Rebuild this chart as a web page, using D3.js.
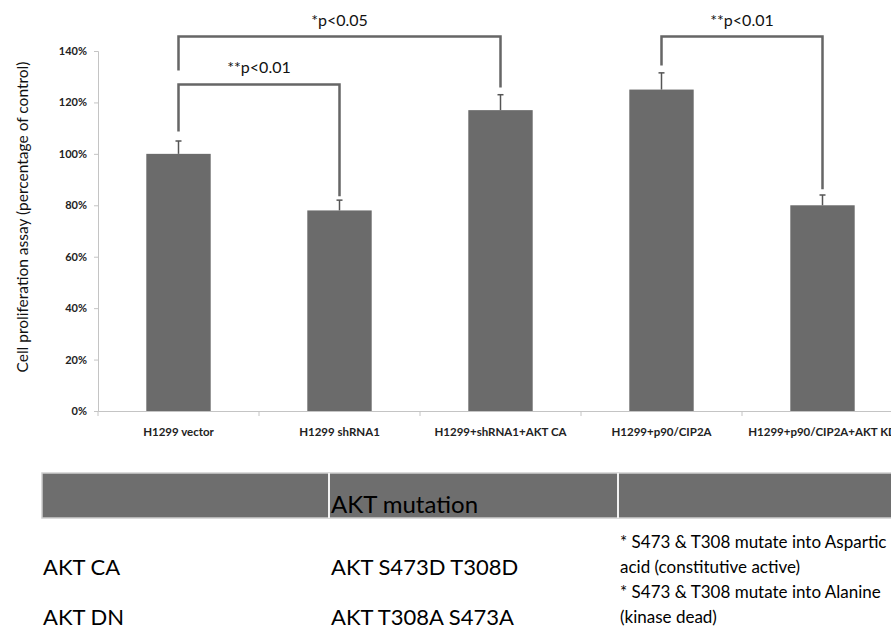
<!DOCTYPE html>
<html>
<head>
<meta charset="utf-8">
<script src="https://cdn.jsdelivr.net/npm/d3@7"></script>
<style>
  body { margin: 0; background: #fff; }
  svg { display: block; }
</style>
</head>
<body>
<svg id="chart" width="891" height="630"></svg>
<script>
// data
const categories = ['H1299 vector', 'H1299 shRNA1', 'H1299+shRNA1+AKT CA', 'H1299+p90/CIP2A', 'H1299+p90/CIP2A+AKT KD'];
const values = [100, 78, 117, 125, 80];
const errors = [5, 4, 6, 6.5, 4];
const yTicks = [0, 20, 40, 60, 80, 100, 120, 140];

// significance brackets (values in % units)
const brackets = [
  { from: 0, to: 2, top: 145.6, leftEnd: 132.4, rightEnd: 125.8, label: '*p<0.05' },
  { from: 0, to: 1, top: 127, leftEnd: 108.7, rightEnd: 83.5, label: '**p<0.01' },
  { from: 3, to: 4, top: 145.6, leftEnd: 134.4, rightEnd: 86.2, label: '**p<0.01' }
];

const tableHeader = ['', 'AKT mutation', ''];
const tableRows = [
  ['AKT CA', 'AKT S473D T308D', ['* S473 & T308 mutate into Aspartic', 'acid (constitutive active)']],
  ['AKT DN', 'AKT T308A S473A', ['*  S473 & T308 mutate into Alanine', '(kinase dead)']]
];

const svg = d3.select('#chart');
const font = 'Lato, "Open Sans", sans-serif';

const x = d3.scaleBand()
  .domain(categories)
  .range([98, 903])
  .padding(0);

const y = d3.scaleLinear()
  .domain([0, 140])
  .range([411, 51]);

const barW = x.bandwidth() * 0.4;
const cx = i => x(categories[i]) + x.bandwidth() / 2;

// y axis
const yAxis = d3.axisLeft(y)
  .tickValues(yTicks)
  .tickSize(4)
  .tickFormat(d => d + '%');

const gy = svg.append('g')
  .attr('transform', 'translate(98,0)')
  .call(yAxis);
gy.select('.domain').attr('stroke', '#c4c4c4');
gy.selectAll('.tick line').attr('stroke', '#c4c4c4');
gy.selectAll('.tick text')
  .attr('x', -11)
  .attr('fill', '#222')
  .style('font', 'bold 11px ' + font);

// x axis
const xAxis = d3.axisBottom(x).tickSize(0).tickFormat(d => d);
const gx = svg.append('g')
  .attr('transform', 'translate(0,411)')
  .call(xAxis);
gx.select('.domain').attr('stroke', '#c4c4c4');
gx.selectAll('.tick text')
  .attr('y', 17)
  .attr('fill', '#222')
  .style('font', 'bold 11.5px ' + font);

// separator ticks between categories
gx.selectAll('.sep')
  .data(categories)
  .enter()
  .append('line')
  .attr('x1', d => x(d))
  .attr('x2', d => x(d))
  .attr('y1', 0)
  .attr('y2', 5)
  .attr('stroke', '#c4c4c4');

// bars
svg.selectAll('.bar')
  .data(values)
  .enter()
  .append('rect')
  .attr('class', 'bar')
  .attr('x', (d, i) => cx(i) - barW / 2)
  .attr('y', d => y(d))
  .attr('width', barW)
  .attr('height', d => y(0) - y(d))
  .attr('fill', '#6b6b6b');

// error bars
const eb = svg.append('g').attr('stroke', '#555').attr('stroke-width', 1.5);
values.forEach((v, i) => {
  eb.append('line')
    .attr('x1', cx(i)).attr('x2', cx(i))
    .attr('y1', y(v)).attr('y2', y(v + errors[i]));
  eb.append('line')
    .attr('x1', cx(i) - 3).attr('x2', cx(i) + 3)
    .attr('y1', y(v + errors[i])).attr('y2', y(v + errors[i]));
});

// brackets
const bg = svg.append('g');
brackets.forEach(b => {
  const x1 = cx(b.from), x2 = cx(b.to);
  bg.append('path')
    .attr('d', `M${x1},${y(b.leftEnd)}V${y(b.top)}H${x2}V${y(b.rightEnd)}`)
    .attr('fill', 'none')
    .attr('stroke', '#666')
    .attr('stroke-width', 2.5);
  bg.append('text')
    .attr('x', (x1 + x2) / 2)
    .attr('y', y(b.top) - 11)
    .attr('text-anchor', 'middle')
    .attr('fill', '#111')
    .style('font', '16px ' + font)
    .text(b.label);
});

// y title
svg.append('text')
  .attr('transform', 'translate(28,217) rotate(-90)')
  .attr('text-anchor', 'middle')
  .attr('fill', '#111')
  .style('font', '15.5px ' + font)
  .text('Cell proliferation assay (percentage of control)');

// table
const colX = [42, 329, 618];
const table = svg.append('g');
table.append('rect')
  .attr('x', 42).attr('y', 473)
  .attr('width', 860).attr('height', 45)
  .attr('fill', '#6e6e6e')
  .attr('stroke', '#cfcfcf')
  .attr('stroke-width', 1.5);
colX.slice(1).forEach(cxp => {
  table.append('line')
    .attr('x1', cxp).attr('x2', cxp)
    .attr('y1', 473).attr('y2', 518)
    .attr('stroke', '#f2f2f2')
    .attr('stroke-width', 2);
});
tableHeader.forEach((h, i) => {
  table.append('text')
    .attr('x', colX[i] + 2).attr('y', 513)
    .attr('fill', '#000')
    .style('font', '24px ' + font)
    .text(h);
});
const rowY = [575, 625];
tableRows.forEach((r, j) => {
  table.append('text')
    .attr('x', colX[0] + 1).attr('y', rowY[j])
    .attr('fill', '#000')
    .style('font', '22px ' + font)
    .text(r[0]);
  table.append('text')
    .attr('x', colX[1] + 2).attr('y', rowY[j])
    .attr('fill', '#000')
    .style('font', '22px ' + font)
    .text(r[1]);
  r[2].forEach((line, k) => {
    table.append('text')
      .attr('x', colX[2] + 2).attr('y', rowY[j] - 27 + k * 25)
      .attr('fill', '#000')
      .style('font', '17px ' + font)
      .text(line);
  });
});
</script>
</body>
</html>
